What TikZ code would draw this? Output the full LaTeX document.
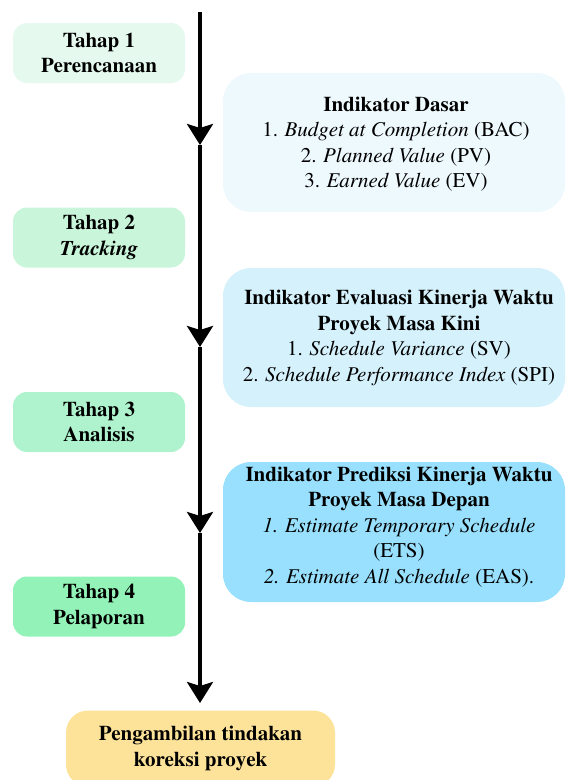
\documentclass[tikz,border=0pt]{standalone}
\usepackage[T1]{fontenc}
\usepackage{times}
\usetikzlibrary{arrows.meta}
\definecolor{tA}{HTML}{E5F9EE}
\definecolor{tB}{HTML}{C9F6DA}
\definecolor{tC}{HTML}{AEF3CE}
\definecolor{tD}{HTML}{93F2B7}
\definecolor{rA}{HTML}{EEF9FE}
\definecolor{rB}{HTML}{D5F1FC}
\definecolor{rC}{HTML}{98E0FD}
\definecolor{bY}{HTML}{FDE39A}
\tikzset{
  txt/.style={font=\fontsize{21}{25.5}\selectfont, align=center, inner sep=0pt},
  stage/.style={txt, font=\fontsize{21}{25.5}\selectfont\bfseries, rounded corners=14pt, minimum width=172pt, minimum height=60pt},
  infobox/.style={rounded corners=28pt, minimum width=342pt, minimum height=139pt, inner sep=0pt},
  flow/.style={line width=3.5pt, -{Stealth[length=21pt,width=26pt,inset=4pt]}}
}
\begin{document}
\begin{tikzpicture}[x=1pt,y=-1pt]
\useasboundingbox (0,0) rectangle (566,780);
\clip (0,0) rectangle (566,780);
% stage boxes
\node[stage, fill=tA] (s1) at (99,53) {Tahap 1\\Perencanaan};
\node[stage, fill=tB] (s2) at (99,237.5) {Tahap 2\\\textit{Tracking}};
\node[stage, fill=tC] (s3) at (99,422) {Tahap 3\\Analisis};
\node[stage, fill=tD] (s4) at (99,606.5) {Tahap 4\\Pelaporan};
% indicator boxes
\node[infobox, fill=rA] (r1) at (394,142.5) {};
\node[txt] (r1t) at (396,144) {\textbf{Indikator Dasar}\\1. \textit{Budget at Completion} (BAC)\\2. \textit{Planned Value} (PV)\\3. \textit{Earned Value} (EV)};
\node[infobox, fill=rB] (r2) at (394,337.5) {};
\node[txt] (r2t) at (399,338) {\textbf{Indikator Evaluasi Kinerja Waktu}\\\textbf{Proyek Masa Kini}\\1. \textit{Schedule Variance} (SV)\\2. \textit{Schedule Performance Index} (SPI)};
\node[infobox, fill=rC, minimum height=140pt] (r3) at (394,532) {};
\node[txt] (r3t) at (399,527) {\textbf{Indikator Prediksi Kinerja Waktu}\\\textbf{Proyek Masa Depan}\\\textit{1. Estimate Temporary Schedule}\\(ETS)\\\textit{2. Estimate All Schedule} (EAS).};
% final box
\node[txt, font=\fontsize{21}{25.5}\selectfont\bfseries, fill=bY, rounded corners=22pt, minimum width=269pt, minimum height=76pt] (fin) at (200.5,748.5) {Pengambilan tindakan\\koreksi proyek};
% timeline
\coordinate (top) at (200,12);
\coordinate (a1) at (200,145);
\coordinate (a2) at (200,347);
\coordinate (a3) at (200,533);
\coordinate (a4) at (200,703);
\draw[flow] (top) -- (a1);
\draw[flow] (a1) -- (a2);
\draw[flow] (a2) -- (a3);
\draw[flow] (a3) -- (a4);
\end{tikzpicture}
\end{document}
